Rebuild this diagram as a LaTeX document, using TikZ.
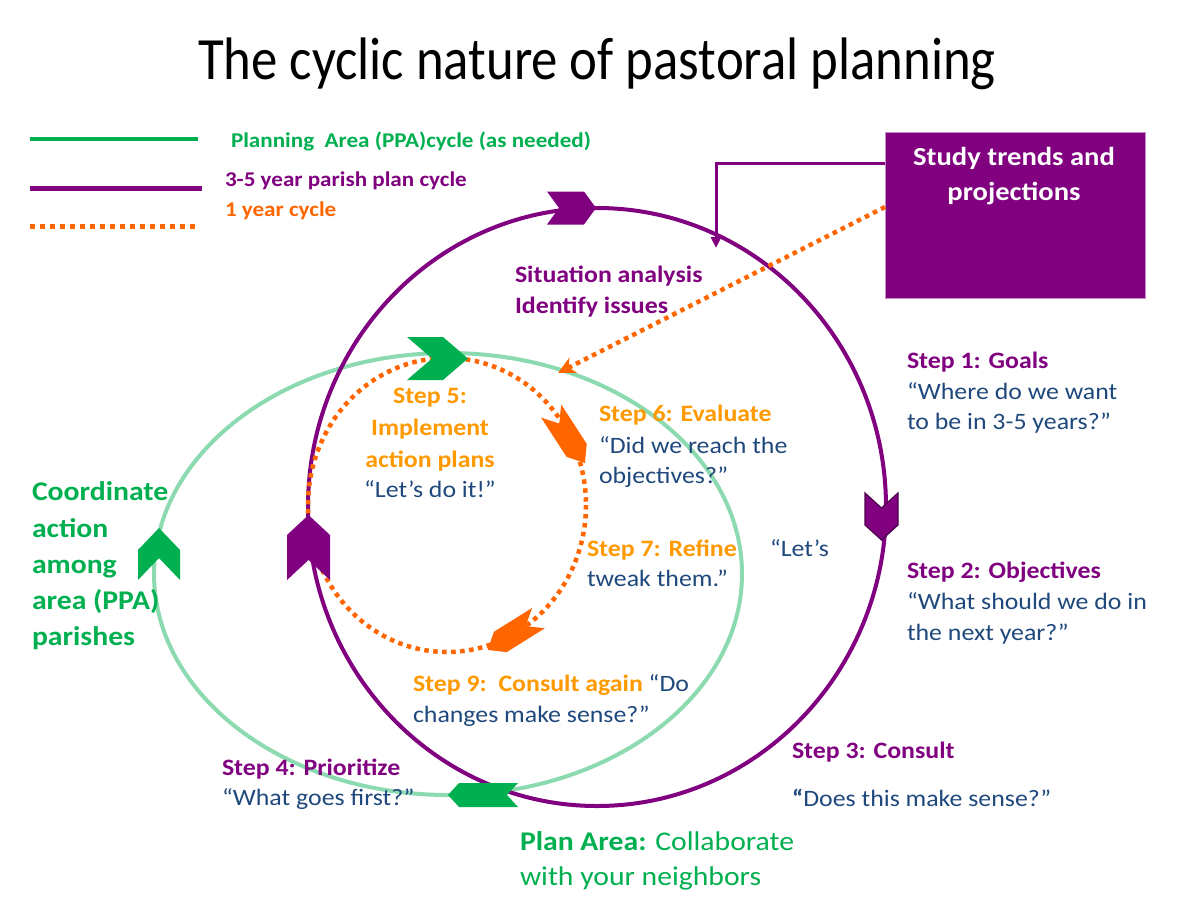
\documentclass[tikz,border=0pt]{standalone}
\usepackage{fontspec}
\setmainfont{Carlito}[FakeStretch=1.1]
\newfontfamily\titlefont{Carlito}[FakeStretch=0.88]
\usetikzlibrary{arrows.meta}
\definecolor{pur}{RGB}{128,0,128}
\definecolor{grn}{RGB}{0,176,80}
\definecolor{lgrn}{RGB}{140,218,176}
\definecolor{org}{RGB}{255,102,0}
\definecolor{lorg}{RGB}{255,153,0}
\definecolor{navy}{RGB}{31,73,125}
\newcommand\myfs[1]{\fontsize{#1}{#1}\selectfont}
\tikzset{pics/chev/.style n args={3}{code={%
  \path[pic actions] ({-#1/2},{-#2/2}) -- ({#1/2-#3},{-#2/2}) -- ({#1/2},0) -- ({#1/2-#3},{#2/2}) -- ({-#1/2},{#2/2}) -- ({-#1/2+#3},0) -- cycle;}}}
\begin{document}
\begin{tikzpicture}[x=1pt,y=-1pt,
  every node/.style={inner sep=0pt, outer sep=0pt},
  txt/.style={anchor=base west, font=\myfs{23.5}, text=navy},
  ptxt/.style={txt, font=\myfs{23.5}\bfseries, text=pur},
  otxt/.style={txt, font=\myfs{23.5}\bfseries, text=lorg},
  gtxt/.style={anchor=base west, font=\myfs{27}\bfseries, text=grn},
  legtxt/.style={anchor=base west, font=\myfs{21}\bfseries},
  ring/.style={line width=4pt},
  dotline/.style={org, line width=4.5pt, dash pattern=on 4.5pt off 4.5pt}]
\fill[white] (0,0) rectangle (1194,900);
\useasboundingbox (0,0) rectangle (1194,900);

% title
\node[anchor=base, font=\titlefont\myfs{60}] (title) at (597,79) {The cyclic nature of pastoral planning};

% legend
\draw[grn, line width=4pt] (30,139) -- (198,139);
\draw[pur, line width=5pt] (30,188) -- (202,188);
\draw[org, line width=5pt, dash pattern=on 5pt off 5pt] (30,226) -- (196,226);
\node[legtxt, text=grn] (lg1) at (231,147) {Planning\ \ Area (PPA)cycle (as needed)};
\node[legtxt, text=pur] (lg2) at (225,186) {3-5 year parish plan cycle};
\node[legtxt, text=org] (lg3) at (225,216) {1 year cycle};

% cycles
\draw[lgrn, ring] (448,574) ellipse [x radius=294, y radius=221];
\draw[pur, ring] (597,507) ellipse [x radius=289, y radius=299];
\draw[dotline] (447,505) ellipse [x radius=139, y radius=147];

% study box
\node[fill=pur, draw=pur!45, line width=1pt, minimum width=260pt, minimum height=166pt, anchor=north west] (study) at (885,132) {};
\node[anchor=base, font=\myfs{26}\bfseries, text=white] (st1) at (1014,165) {Study trends and};
\node[anchor=base, font=\myfs{26}\bfseries, text=white] (st2) at (1014,200) {projections};

% connectors from the box
\coordinate (a1s) at (885,163);
\coordinate (a1e) at (716,248);
\draw[pur, line width=3pt, -{Triangle[length=11pt,width=10pt]}] (a1s) -| (a1e);
\coordinate (a2s) at (885,207);
\coordinate (a2e) at (558,373);
\draw[dotline, -{Stealth[length=17pt,width=17pt,inset=5pt]}] (a2s) -- (a2e);

% chevrons
\pic[fill=pur] at (571.5,208) {chev={49}{33}{12}};
\pic[fill=pur, rotate=90] at (308.5,547.5) {chev={65}{43}{20}};
\pic[fill=pur, draw=pur!60!black, line width=1.2pt, rotate=-90] at (881.5,516.5) {chev={47}{33}{15}};
\pic[fill=grn] at (437.5,358.5) {chev={61}{43}{25}};
\pic[fill=grn, rotate=90] at (159,554) {chev={52}{42}{22}};
\pic[fill=grn, rotate=180] at (483,795) {chev={70}{24}{11}};
\pic[fill=org, rotate=-57] at (568,437) {chev={62}{24}{15}};
\pic[fill=org, rotate=-148] at (513,634) {chev={60}{24}{15}};

% texts
\node[ptxt] (sa1) at (515,282) {Situation analysis};
\node[ptxt] (sa2) at (515,313) {Identify issues};

\node[ptxt] (s1a) at (907,368) {Step 1: Goals};
\node[txt] (s1b) at (907,399) {“Where do we want};
\node[txt] (s1c) at (907,429) {to be in 3-5 years?”};

\node[ptxt] (s2a) at (907,578) {Step 2: Objectives};
\node[txt] (s2b) at (907,609) {“What should we do in};
\node[txt] (s2c) at (907,640) {the next year?”};

\node[ptxt] (s3a) at (792,758) {Step 3: Consult};
\node[txt] (s3b) at (792,806) {\textbf{“}Does this make sense?”};

\node[ptxt] (s4a) at (222,775) {Step 4: Prioritize};
\node[txt] (s4b) at (222,805) {“What goes first?”};

\node[gtxt, font=\myfs{27}] (pa1) at (520,850) {\textbf{Plan Area:} Collaborate};
\node[gtxt, font=\myfs{27}] (pa2) at (520,885) {with your neighbors};

\node[gtxt] (co1) at (32,500) {Coordinate};
\node[gtxt] (co2) at (32,537) {action};
\node[gtxt] (co3) at (32,573) {among};
\node[gtxt] (co4) at (32,609) {area (PPA)};
\node[gtxt] (co5) at (32,645) {parishes};

\node[otxt, anchor=base] (s5a) at (430,403) {Step 5:};
\node[otxt, anchor=base] (s5b) at (430,435) {Implement};
\node[otxt, anchor=base] (s5c) at (430,467) {action plans};
\node[txt, anchor=base] (s5d) at (430,497) {“Let’s do it!”};

\node[otxt] (s6a) at (599,421) {Step 6: Evaluate};
\node[txt] (s6b) at (599,453) {“Did we reach the};
\node[txt] (s6c) at (599,483) {objectives?”};

\node[otxt] (s7a) at (587,556) {Step 7: Refine};
\node[txt] (s7b) at (770,556) {“Let’s};
\node[txt] (s7c) at (587,586) {tweak them.”};

\node[txt] (s9a) at (413,691) {{\bfseries\color{lorg}Step 9:\ \ Consult again} “Do};
\node[txt] (s9b) at (413,722) {changes make sense?”};
\end{tikzpicture}
\end{document}
